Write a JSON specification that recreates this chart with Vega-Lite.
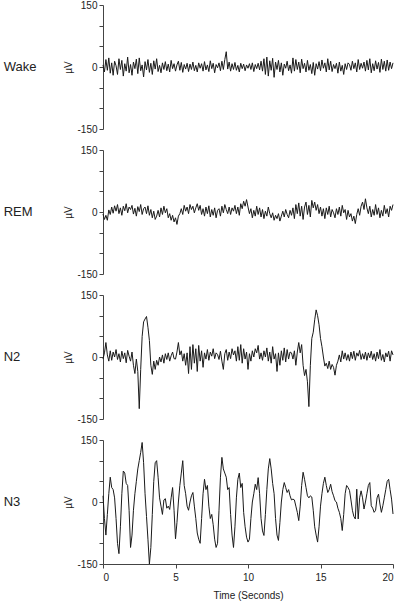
{
  "$schema": "https://vega.github.io/schema/vega-lite/v6.json",
  "padding": {"left": 3, "top": 0, "right": 7, "bottom": 2},
  "background": "white",
  "data": {"values": [
    {"t":0,"Wake":5,"REM":-5,"N2":-5,"N3":15},
    {"t":0.1,"Wake":-12,"REM":-18,"N2":10,"N3":-40},
    {"t":0.2,"Wake":18,"REM":-8,"N2":35,"N3":-80},
    {"t":0.3,"Wake":-8,"REM":-20,"N2":5,"N3":-30},
    {"t":0.4,"Wake":22,"REM":5,"N2":-10,"N3":20},
    {"t":0.5,"Wake":-15,"REM":-6,"N2":15,"N3":60},
    {"t":0.6,"Wake":10,"REM":12,"N2":-8,"N3":35},
    {"t":0.7,"Wake":-20,"REM":-3,"N2":12,"N3":30},
    {"t":0.8,"Wake":14,"REM":15,"N2":0,"N3":10},
    {"t":0.9,"Wake":3,"REM":2,"N2":18,"N3":-40},
    {"t":1,"Wake":-18,"REM":18,"N2":-6,"N3":-100},
    {"t":1.1,"Wake":20,"REM":-4,"N2":8,"N3":-125},
    {"t":1.2,"Wake":-6,"REM":10,"N2":-12,"N3":-60},
    {"t":1.3,"Wake":16,"REM":-8,"N2":14,"N3":20},
    {"t":1.4,"Wake":-22,"REM":14,"N2":-4,"N3":75},
    {"t":1.5,"Wake":8,"REM":3,"N2":10,"N3":70},
    {"t":1.6,"Wake":-10,"REM":20,"N2":-14,"N3":45},
    {"t":1.7,"Wake":24,"REM":-2,"N2":16,"N3":40},
    {"t":1.8,"Wake":-14,"REM":12,"N2":2,"N3":-20},
    {"t":1.9,"Wake":6,"REM":6,"N2":-10,"N3":-110},
    {"t":2,"Wake":-20,"REM":16,"N2":12,"N3":-80},
    {"t":2.1,"Wake":12,"REM":-5,"N2":-20,"N3":-20},
    {"t":2.2,"Wake":-4,"REM":9,"N2":-40,"N3":20},
    {"t":2.3,"Wake":19,"REM":-10,"N2":-5,"N3":50},
    {"t":2.4,"Wake":-16,"REM":13,"N2":-35,"N3":80},
    {"t":2.5,"Wake":22,"REM":1,"N2":-125,"N3":100},
    {"t":2.6,"Wake":-9,"REM":18,"N2":-30,"N3":120},
    {"t":2.7,"Wake":5,"REM":-6,"N2":50,"N3":144},
    {"t":2.8,"Wake":-24,"REM":8,"N2":85,"N3":95},
    {"t":2.9,"Wake":13,"REM":12,"N2":92,"N3":20},
    {"t":3,"Wake":-7,"REM":-4,"N2":98,"N3":-35},
    {"t":3.1,"Wake":18,"REM":15,"N2":72,"N3":-90},
    {"t":3.2,"Wake":-13,"REM":-8,"N2":40,"N3":-150},
    {"t":3.3,"Wake":9,"REM":6,"N2":-20,"N3":-110},
    {"t":3.4,"Wake":-18,"REM":-14,"N2":-42,"N3":-30},
    {"t":3.5,"Wake":15,"REM":2,"N2":-10,"N3":50},
    {"t":3.6,"Wake":-5,"REM":-18,"N2":-30,"N3":95},
    {"t":3.7,"Wake":20,"REM":-10,"N2":-8,"N3":100},
    {"t":3.8,"Wake":-11,"REM":4,"N2":-20,"N3":60},
    {"t":3.9,"Wake":4,"REM":-12,"N2":0,"N3":10},
    {"t":4,"Wake":-14,"REM":10,"N2":-12,"N3":-10},
    {"t":4.1,"Wake":10,"REM":-6,"N2":5,"N3":-30},
    {"t":4.2,"Wake":-6,"REM":14,"N2":-15,"N3":5},
    {"t":4.3,"Wake":13,"REM":-2,"N2":8,"N3":8},
    {"t":4.4,"Wake":-9,"REM":8,"N2":-6,"N3":-15},
    {"t":4.5,"Wake":7,"REM":-14,"N2":10,"N3":-10},
    {"t":4.6,"Wake":-12,"REM":-4,"N2":-10,"N3":-18},
    {"t":4.7,"Wake":16,"REM":-20,"N2":3,"N3":10},
    {"t":4.8,"Wake":-4,"REM":-8,"N2":12,"N3":35},
    {"t":4.9,"Wake":8,"REM":-24,"N2":-4,"N3":-20},
    {"t":5,"Wake":-10,"REM":-14,"N2":-5,"N3":-89},
    {"t":5.1,"Wake":5,"REM":-30,"N2":12,"N3":-50},
    {"t":5.2,"Wake":14,"REM":-10,"N2":35,"N3":0},
    {"t":5.3,"Wake":-8,"REM":-4,"N2":5,"N3":40},
    {"t":5.4,"Wake":11,"REM":8,"N2":15,"N3":70},
    {"t":5.5,"Wake":-13,"REM":-6,"N2":-10,"N3":100},
    {"t":5.6,"Wake":6,"REM":16,"N2":8,"N3":40},
    {"t":5.7,"Wake":-5,"REM":2,"N2":-20,"N3":20},
    {"t":5.8,"Wake":9,"REM":12,"N2":10,"N3":-10},
    {"t":5.9,"Wake":-11,"REM":-4,"N2":-40,"N3":-20},
    {"t":6,"Wake":7,"REM":18,"N2":25,"N3":0},
    {"t":6.1,"Wake":-6,"REM":6,"N2":-30,"N3":15},
    {"t":6.2,"Wake":12,"REM":14,"N2":30,"N3":23},
    {"t":6.3,"Wake":-9,"REM":-2,"N2":-15,"N3":-10},
    {"t":6.4,"Wake":4,"REM":10,"N2":20,"N3":-40},
    {"t":6.5,"Wake":-12,"REM":20,"N2":-35,"N3":-75},
    {"t":6.6,"Wake":10,"REM":4,"N2":28,"N3":-90},
    {"t":6.7,"Wake":-3,"REM":16,"N2":-10,"N3":-100},
    {"t":6.8,"Wake":8,"REM":-6,"N2":15,"N3":-40},
    {"t":6.9,"Wake":-10,"REM":8,"N2":-25,"N3":20},
    {"t":7,"Wake":13,"REM":-10,"N2":10,"N3":55},
    {"t":7.1,"Wake":-7,"REM":12,"N2":-5,"N3":30},
    {"t":7.2,"Wake":5,"REM":-4,"N2":18,"N3":40},
    {"t":7.3,"Wake":-11,"REM":15,"N2":-8,"N3":-10},
    {"t":7.4,"Wake":15,"REM":-12,"N2":12,"N3":-40},
    {"t":7.5,"Wake":-4,"REM":6,"N2":2,"N3":-30},
    {"t":7.6,"Wake":9,"REM":-8,"N2":20,"N3":-55},
    {"t":7.7,"Wake":-14,"REM":10,"N2":-4,"N3":-90},
    {"t":7.8,"Wake":6,"REM":-14,"N2":10,"N3":-110},
    {"t":7.9,"Wake":-2,"REM":4,"N2":6,"N3":-100},
    {"t":8,"Wake":10,"REM":8,"N2":-6,"N3":-20},
    {"t":8.1,"Wake":-9,"REM":-10,"N2":14,"N3":60},
    {"t":8.2,"Wake":14,"REM":14,"N2":-10,"N3":108},
    {"t":8.3,"Wake":-6,"REM":-2,"N2":-30,"N3":80},
    {"t":8.4,"Wake":18,"REM":18,"N2":8,"N3":70},
    {"t":8.5,"Wake":37,"REM":6,"N2":18,"N3":60},
    {"t":8.6,"Wake":-5,"REM":-4,"N2":-8,"N3":30},
    {"t":8.7,"Wake":12,"REM":12,"N2":12,"N3":35},
    {"t":8.8,"Wake":-10,"REM":-6,"N2":-4,"N3":-30},
    {"t":8.9,"Wake":8,"REM":10,"N2":20,"N3":-80},
    {"t":9,"Wake":-6,"REM":2,"N2":5,"N3":-110},
    {"t":9.1,"Wake":11,"REM":16,"N2":15,"N3":-60},
    {"t":9.2,"Wake":-8,"REM":-4,"N2":-10,"N3":10},
    {"t":9.3,"Wake":4,"REM":12,"N2":25,"N3":55},
    {"t":9.4,"Wake":-12,"REM":-8,"N2":-8,"N3":70},
    {"t":9.5,"Wake":9,"REM":20,"N2":30,"N3":35},
    {"t":9.6,"Wake":-4,"REM":8,"N2":-15,"N3":45},
    {"t":9.7,"Wake":7,"REM":26,"N2":20,"N3":-25},
    {"t":9.8,"Wake":-9,"REM":14,"N2":-5,"N3":-60},
    {"t":9.9,"Wake":5,"REM":30,"N2":12,"N3":-85},
    {"t":10,"Wake":-3,"REM":12,"N2":-30,"N3":-97},
    {"t":10.1,"Wake":8,"REM":-4,"N2":8,"N3":-90},
    {"t":10.2,"Wake":-6,"REM":8,"N2":-10,"N3":-40},
    {"t":10.3,"Wake":10,"REM":-14,"N2":15,"N3":0},
    {"t":10.4,"Wake":-11,"REM":4,"N2":0,"N3":20},
    {"t":10.5,"Wake":6,"REM":-10,"N2":20,"N3":43},
    {"t":10.6,"Wake":-4,"REM":14,"N2":10,"N3":30},
    {"t":10.7,"Wake":9,"REM":-6,"N2":28,"N3":59},
    {"t":10.8,"Wake":-7,"REM":10,"N2":-5,"N3":20},
    {"t":10.9,"Wake":14,"REM":-12,"N2":10,"N3":-40},
    {"t":11,"Wake":-10,"REM":6,"N2":-8,"N3":-70},
    {"t":11.1,"Wake":20,"REM":-16,"N2":15,"N3":-81},
    {"t":11.2,"Wake":-18,"REM":2,"N2":0,"N3":-30},
    {"t":11.3,"Wake":24,"REM":-10,"N2":22,"N3":30},
    {"t":11.4,"Wake":-22,"REM":12,"N2":-10,"N3":80},
    {"t":11.5,"Wake":15,"REM":-4,"N2":12,"N3":105},
    {"t":11.6,"Wake":-8,"REM":-14,"N2":-15,"N3":80},
    {"t":11.7,"Wake":21,"REM":-2,"N2":25,"N3":45},
    {"t":11.8,"Wake":-25,"REM":-20,"N2":-5,"N3":20},
    {"t":11.9,"Wake":12,"REM":-8,"N2":8,"N3":-40},
    {"t":12,"Wake":-6,"REM":-16,"N2":-35,"N3":-80},
    {"t":12.1,"Wake":16,"REM":-4,"N2":10,"N3":-93},
    {"t":12.2,"Wake":-12,"REM":-22,"N2":-20,"N3":-50},
    {"t":12.3,"Wake":10,"REM":-10,"N2":15,"N3":0},
    {"t":12.4,"Wake":-20,"REM":2,"N2":-8,"N3":30},
    {"t":12.5,"Wake":7,"REM":-12,"N2":22,"N3":47},
    {"t":12.6,"Wake":-3,"REM":6,"N2":-12,"N3":35},
    {"t":12.7,"Wake":14,"REM":-6,"N2":18,"N3":23},
    {"t":12.8,"Wake":-9,"REM":-14,"N2":-5,"N3":30},
    {"t":12.9,"Wake":5,"REM":4,"N2":12,"N3":15},
    {"t":13,"Wake":-15,"REM":-8,"N2":10,"N3":5},
    {"t":13.1,"Wake":22,"REM":10,"N2":-5,"N3":7},
    {"t":13.2,"Wake":-10,"REM":-16,"N2":15,"N3":5},
    {"t":13.3,"Wake":18,"REM":18,"N2":-20,"N3":-10},
    {"t":13.4,"Wake":-6,"REM":-4,"N2":12,"N3":-25},
    {"t":13.5,"Wake":12,"REM":22,"N2":35,"N3":-45},
    {"t":13.6,"Wake":-14,"REM":-10,"N2":10,"N3":-10},
    {"t":13.7,"Wake":19,"REM":14,"N2":30,"N3":40},
    {"t":13.8,"Wake":-4,"REM":-18,"N2":-20,"N3":72},
    {"t":13.9,"Wake":9,"REM":12,"N2":-45,"N3":55},
    {"t":14,"Wake":-12,"REM":24,"N2":-30,"N3":35},
    {"t":14.1,"Wake":16,"REM":-6,"N2":-60,"N3":15},
    {"t":14.2,"Wake":-8,"REM":16,"N2":-120,"N3":10},
    {"t":14.3,"Wake":6,"REM":-12,"N2":-20,"N3":15},
    {"t":14.4,"Wake":-16,"REM":28,"N2":45,"N3":12},
    {"t":14.5,"Wake":11,"REM":10,"N2":60,"N3":-20},
    {"t":14.6,"Wake":-20,"REM":24,"N2":90,"N3":-60},
    {"t":14.7,"Wake":8,"REM":4,"N2":114,"N3":-80},
    {"t":14.8,"Wake":-5,"REM":18,"N2":100,"N3":-97},
    {"t":14.9,"Wake":13,"REM":-4,"N2":78,"N3":-60},
    {"t":15,"Wake":-9,"REM":12,"N2":45,"N3":-10},
    {"t":15.1,"Wake":17,"REM":-10,"N2":25,"N3":20},
    {"t":15.2,"Wake":-3,"REM":8,"N2":0,"N3":45},
    {"t":15.3,"Wake":10,"REM":-16,"N2":-22,"N3":60},
    {"t":15.4,"Wake":-12,"REM":10,"N2":-15,"N3":40},
    {"t":15.5,"Wake":20,"REM":-6,"N2":-28,"N3":23},
    {"t":15.6,"Wake":-7,"REM":14,"N2":-10,"N3":30},
    {"t":15.7,"Wake":14,"REM":-12,"N2":-30,"N3":43},
    {"t":15.8,"Wake":-11,"REM":6,"N2":-18,"N3":25},
    {"t":15.9,"Wake":6,"REM":-2,"N2":-25,"N3":15},
    {"t":16,"Wake":-4,"REM":-14,"N2":-44,"N3":3},
    {"t":16.1,"Wake":9,"REM":8,"N2":-20,"N3":0},
    {"t":16.2,"Wake":-15,"REM":-6,"N2":-10,"N3":-15},
    {"t":16.3,"Wake":12,"REM":12,"N2":5,"N3":-25},
    {"t":16.4,"Wake":-10,"REM":-10,"N2":-12,"N3":-40},
    {"t":16.5,"Wake":4,"REM":16,"N2":15,"N3":-69},
    {"t":16.6,"Wake":-18,"REM":-2,"N2":-5,"N3":-30},
    {"t":16.7,"Wake":8,"REM":6,"N2":10,"N3":20},
    {"t":16.8,"Wake":-6,"REM":-18,"N2":-8,"N3":40},
    {"t":16.9,"Wake":10,"REM":4,"N2":6,"N3":35},
    {"t":17,"Wake":6,"REM":-12,"N2":-10,"N3":28},
    {"t":17.1,"Wake":-8,"REM":-4,"N2":12,"N3":5},
    {"t":17.2,"Wake":14,"REM":-22,"N2":-4,"N3":-20},
    {"t":17.3,"Wake":-4,"REM":-10,"N2":14,"N3":-35},
    {"t":17.4,"Wake":10,"REM":-28,"N2":-8,"N3":-41},
    {"t":17.5,"Wake":-12,"REM":-6,"N2":10,"N3":31},
    {"t":17.6,"Wake":18,"REM":8,"N2":2,"N3":-41},
    {"t":17.7,"Wake":-6,"REM":-8,"N2":16,"N3":10},
    {"t":17.8,"Wake":9,"REM":14,"N2":-6,"N3":27},
    {"t":17.9,"Wake":-3,"REM":24,"N2":8,"N3":10},
    {"t":18,"Wake":12,"REM":6,"N2":-5,"N3":-17},
    {"t":18.1,"Wake":-10,"REM":32,"N2":12,"N3":0},
    {"t":18.2,"Wake":16,"REM":10,"N2":-8,"N3":20},
    {"t":18.3,"Wake":-7,"REM":-4,"N2":10,"N3":40},
    {"t":18.4,"Wake":20,"REM":14,"N2":-2,"N3":47},
    {"t":18.5,"Wake":-14,"REM":-12,"N2":14,"N3":-9},
    {"t":18.6,"Wake":8,"REM":6,"N2":-6,"N3":-15},
    {"t":18.7,"Wake":-9,"REM":-8,"N2":8,"N3":-25},
    {"t":18.8,"Wake":15,"REM":18,"N2":-10,"N3":-20},
    {"t":18.9,"Wake":-5,"REM":-6,"N2":12,"N3":10},
    {"t":19,"Wake":11,"REM":10,"N2":-4,"N3":19},
    {"t":19.1,"Wake":-13,"REM":-14,"N2":18,"N3":-5},
    {"t":19.2,"Wake":19,"REM":4,"N2":-8,"N3":-25},
    {"t":19.3,"Wake":-6,"REM":-10,"N2":6,"N3":-9},
    {"t":19.4,"Wake":14,"REM":16,"N2":-12,"N3":10},
    {"t":19.5,"Wake":-10,"REM":-4,"N2":10,"N3":30},
    {"t":19.6,"Wake":17,"REM":8,"N2":0,"N3":50},
    {"t":19.7,"Wake":-8,"REM":-12,"N2":14,"N3":55},
    {"t":19.8,"Wake":12,"REM":14,"N2":-10,"N3":30},
    {"t":19.9,"Wake":-4,"REM":4,"N2":15,"N3":7},
    {"t":20,"Wake":10,"REM":18,"N2":5,"N3":-29}
  ]},
  "bounds": "flush",
  "spacing": 21,
  "vconcat": [
    {
      "width": 290, "height": 124,
      "layer": [
        {
          "mark": {"type": "line", "color": "#1a1a1a", "strokeWidth": 1},
          "encoding": {
            "x": {"field": "t", "type": "quantitative", "scale": {"domain": [0, 20], "nice": false}, "axis": null},
            "y": {"field": "Wake", "type": "quantitative", "scale": {"domain": [-150, 150], "nice": false},
              "axis": {"values": [-150, -100, -50, 0, 50, 100, 150], "labelExpr": "datum.value === 0 ? '0' : datum.value === 150 ? '150' : datum.value === -150 ? '-150' : ''", "title": "µV", "grid": false, "labelPadding": 2, "titlePadding": 3}}
          }
        },
        {
          "data": {"values": [{"stage": "Wake"}]},
          "mark": {"type": "text", "align": "left", "baseline": "middle", "fontSize": 13, "font": "Liberation Sans", "color": "#222"},
          "encoding": {"x": {"datum": -6.85}, "text": {"field": "stage"}}
        }
      ]
    },
    {
      "width": 290, "height": 124,
      "layer": [
        {
          "mark": {"type": "line", "color": "#1a1a1a", "strokeWidth": 1},
          "encoding": {
            "x": {"field": "t", "type": "quantitative", "scale": {"domain": [0, 20], "nice": false}, "axis": null},
            "y": {"field": "REM", "type": "quantitative", "scale": {"domain": [-150, 150], "nice": false},
              "axis": {"values": [-150, -100, -50, 0, 50, 100, 150], "labelExpr": "datum.value === 0 ? '0' : datum.value === 150 ? '150' : datum.value === -150 ? '-150' : ''", "title": "µV", "grid": false, "labelPadding": 2, "titlePadding": 3}}
          }
        },
        {
          "data": {"values": [{"stage": "REM"}]},
          "mark": {"type": "text", "align": "left", "baseline": "middle", "fontSize": 13, "font": "Liberation Sans", "color": "#222"},
          "encoding": {"x": {"datum": -6.85}, "text": {"field": "stage"}}
        }
      ]
    },
    {
      "width": 290, "height": 124,
      "layer": [
        {
          "mark": {"type": "line", "color": "#1a1a1a", "strokeWidth": 1},
          "encoding": {
            "x": {"field": "t", "type": "quantitative", "scale": {"domain": [0, 20], "nice": false}, "axis": null},
            "y": {"field": "N2", "type": "quantitative", "scale": {"domain": [-150, 150], "nice": false},
              "axis": {"values": [-150, -100, -50, 0, 50, 100, 150], "labelExpr": "datum.value === 0 ? '0' : datum.value === 150 ? '150' : datum.value === -150 ? '-150' : ''", "title": "µV", "grid": false, "labelPadding": 2, "titlePadding": 3}}
          }
        },
        {
          "data": {"values": [{"stage": "N2"}]},
          "mark": {"type": "text", "align": "left", "baseline": "middle", "fontSize": 13, "font": "Liberation Sans", "color": "#222"},
          "encoding": {"x": {"datum": -6.85}, "text": {"field": "stage"}}
        }
      ]
    },
    {
      "width": 290, "height": 124,
      "layer": [
        {
          "mark": {"type": "line", "color": "#1a1a1a", "strokeWidth": 1},
          "encoding": {
            "x": {"field": "t", "type": "quantitative", "scale": {"domain": [0, 20], "nice": false},
              "axis": {"values": [0, 5, 10, 15, 20], "title": "Time (Seconds)", "grid": false, "labelPadding": 4, "titlePadding": 8}},
            "y": {"field": "N3", "type": "quantitative", "scale": {"domain": [-150, 150], "nice": false},
              "axis": {"values": [-150, -100, -50, 0, 50, 100, 150], "labelExpr": "datum.value === 0 ? '0' : datum.value === 150 ? '150' : datum.value === -150 ? '-150' : ''", "title": "µV", "grid": false, "labelPadding": 2, "titlePadding": 3}}
          }
        },
        {
          "data": {"values": [{"stage": "N3"}]},
          "mark": {"type": "text", "align": "left", "baseline": "middle", "fontSize": 13, "font": "Liberation Sans", "color": "#222"},
          "encoding": {"x": {"datum": -6.85}, "text": {"field": "stage"}}
        }
      ]
    }
  ],
  "config": {
    "view": {"stroke": null},
    "axis": {"labelFont": "Liberation Sans", "titleFont": "Liberation Sans", "labelFontSize": 10, "titleFontSize": 10, "titleFontWeight": "normal", "labelColor": "#222", "titleColor": "#222", "domainColor": "#444", "tickColor": "#444", "tickSize": 4, "labelOverlap": false}
  }
}
